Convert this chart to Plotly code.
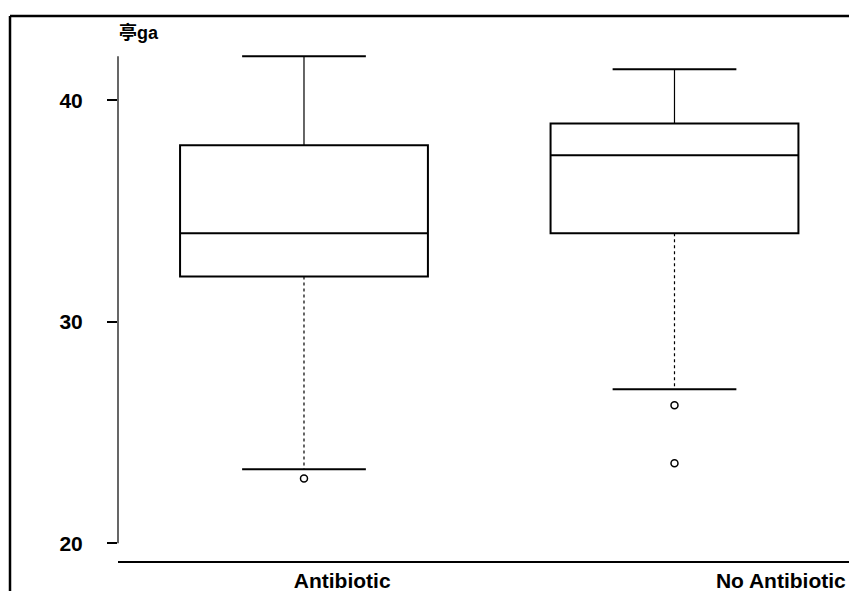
import plotly.graph_objects as go

# ---- data ----
categories = ["Antibiotic", "No Antibiotic"]
q1 = [32.05, 34.0]
median = [34.0, 37.52]
q3 = [37.97, 38.96]
lower_whisker = [23.34, 26.95]
upper_whisker = [41.99, 41.4]
outliers = [[22.93], [26.23, 23.61]]
y_ticks = [20, 30, 40]
title_text = "亭ga"

# ---- style / layout constants ----
W, H = 849, 591
BOX_W = 0.669
CAP_HALF = 0.167
LABEL_OFFSETS = [0.103, 0.287]
INK = "black"

fig = go.Figure()

xs = list(range(len(categories)))

for i, cat in enumerate(categories):
    # box (no whiskers, those are drawn separately)
    fig.add_trace(go.Box(
        x=[xs[i]], q1=[q1[i]], median=[median[i]], q3=[q3[i]],
        lowerfence=[q1[i]], upperfence=[q3[i]],
        width=BOX_W, whiskerwidth=0,
        line=dict(color=INK, width=2), fillcolor="rgba(0,0,0,0)",
        boxpoints=False, showlegend=False, hoverinfo="skip",
    ))
    # upper whisker
    fig.add_trace(go.Scatter(
        x=[xs[i], xs[i]], y=[q3[i], upper_whisker[i]], mode="lines",
        line=dict(color=INK, width=1.2), showlegend=False, hoverinfo="skip"))
    # lower whisker (dotted)
    fig.add_trace(go.Scatter(
        x=[xs[i], xs[i]], y=[q1[i], lower_whisker[i]], mode="lines",
        line=dict(color=INK, width=1.2, dash="dot"), showlegend=False, hoverinfo="skip"))
    # caps
    for v in (upper_whisker[i], lower_whisker[i]):
        fig.add_trace(go.Scatter(
            x=[xs[i] - CAP_HALF, xs[i] + CAP_HALF], y=[v, v], mode="lines",
            line=dict(color=INK, width=2), showlegend=False, hoverinfo="skip"))
    # outliers
    fig.add_trace(go.Scatter(
        x=[xs[i]] * len(outliers[i]), y=outliers[i], mode="markers",
        marker=dict(symbol="circle-open", size=7, color=INK, line=dict(width=1.5, color=INK)),
        showlegend=False, hoverinfo="skip"))

dom0 = 108 / 839

fig.update_layout(
    width=W, height=H,
    margin=dict(l=10, r=0, t=16, b=30, autoexpand=False),
    paper_bgcolor="white", plot_bgcolor="white",
    font=dict(family="Liberation Sans, Arial, sans-serif", color=INK),
    xaxis=dict(
        domain=[dom0, 1], range=[-0.502, 1.471],
        tickmode="array",
        tickvals=[x + o for x, o in zip(xs, LABEL_OFFSETS)],
        ticktext=categories,
        tickfont=dict(size=21, weight="bold"),
        ticks="", showgrid=False, zeroline=False,
        showline=True, linecolor=INK, linewidth=2,
        ticklabelstandoff=0, automargin=False,
    ),
    yaxis=dict(
        range=[19.2, 43.81],
        tickmode="array", tickvals=y_ticks,
        tickfont=dict(size=21, weight="bold"),
        ticks="outside", ticklen=10, tickwidth=1.5, tickcolor=INK,
        showgrid=False, zeroline=False, showline=False,
        ticklabelstandoff=20, automargin=False,
    ),
    shapes=[
        # y axis line (spans lowest tick to top of data)
        dict(type="line", xref="paper", yref="y", x0=dom0, x1=dom0,
             y0=min(y_ticks), y1=max(upper_whisker), line=dict(color=INK, width=1.2)),
        # outer frame (scanned page border)
        dict(type="line", xref="paper", yref="paper", x0=0, x1=0,
             y0=1, y1=-30 / 545, line=dict(color=INK, width=2.5)),
        dict(type="line", xref="paper", yref="paper", x0=0, x1=1,
             y0=1, y1=1, line=dict(color=INK, width=2.5)),
    ],
    annotations=[
        dict(text=title_text, xref="paper", yref="paper",
             x=dom0 - 0.001, y=(561 - 32) / 545, xanchor="left", yanchor="middle",
             showarrow=False,
             font=dict(size=18, weight="bold",
                       family="Liberation Sans, Noto Sans CJK SC, sans-serif")),
    ],
)

fig.write_html("out.html")
